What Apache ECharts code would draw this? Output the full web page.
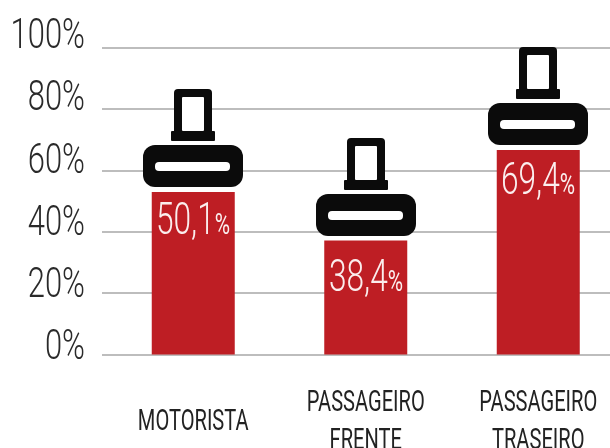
<!DOCTYPE html>
<html><head><meta charset="utf-8">
<style>html,body{margin:0;padding:0;background:#fff}#c{width:610px;height:448px}</style>
<script src="https://cdn.jsdelivr.net/npm/echarts@6/dist/echarts.min.js"></script>
</head><body><div id="c"></div>
<script>
const categories = ['MOTORISTA', 'PASSAGEIRO\nFRENTE', 'PASSAGEIRO\nTRASEIRO'];
const barHeights = [52.9, 37.1, 66.6];
const valueLabels = ['50,1', '38,4', '69,4'];
const tickValues = [0, 20, 40, 60, 80, 100];
const tickLabels = ['0%', '20%', '40%', '60%', '80%', '100%'];

const FONT = 'Roboto,"Liberation Sans",sans-serif';
const LABEL_DROP = [31, 39, 33];
const chart = echarts.init(document.getElementById('c'), null, {renderer: 'canvas'});

function beltIcon(params, api) {
  const p = api.coord([api.value(0), api.value(1)]);
  const x = Math.round(p[0]), y = Math.round(p[1]);
  const rect = (dx, dy, w, h, r, fill) => ({
    type: 'rect',
    shape: {x: x + dx, y: y + dy, width: w, height: h, r},
    style: {fill}
  });
  return {type: 'group', children: [
    rect(-19, -103, 38, 46, 4, '#0b0b0b'),
    rect(-11, -95, 22, 34, 1, '#ffffff'),
    rect(-22, -61, 44, 10, 1, '#0b0b0b'),
    rect(-50, -47, 100, 42, 12, '#0b0b0b'),
    rect(-38, -30, 75, 9, 4, '#ffffff'),
    {
      type: 'text', x, y: y + LABEL_DROP[params.dataIndex], scaleX: 0.72,
      style: {
        text: '{n|' + valueLabels[params.dataIndex] + '}{p|%}',
        align: 'center', verticalAlign: 'middle',
        rich: {
          n: {fontFamily: FONT, fontWeight: 300, fontSize: 44, fill: '#fbeeee'},
          p: {fontFamily: FONT, fontWeight: 400, fontSize: 29, fill: '#fbeeee', padding: [8, 0, 0, 0]}
        }
      }
    }
  ]};
}

function tickText(params, api) {
  const v = api.value(0);
  const p = api.coord([0, v]);
  return {
    type: 'text', x: 85, y: p[1] - 6 - v * 0.04, scaleX: 0.72,
    style: {
      text: tickLabels[params.dataIndex], align: 'right', verticalAlign: 'middle',
      fontFamily: FONT, fontWeight: 300, fontSize: 43, fill: '#2a2a2a'
    }
  };
}

function categoryText(params, api) {
  const p = api.coord([api.value(0), 0]);
  return {
    type: 'text', x: p[0], y: p[1] + 68, scaleX: 0.67,
    style: {
      text: categories[params.dataIndex], align: 'center', verticalAlign: 'middle',
      fontFamily: FONT, fontSize: 30, lineHeight: 38, fill: '#222222'
    }
  };
}

chart.setOption({
  animation: false,
  backgroundColor: '#ffffff',
  grid: {left: 107, width: 517.5, top: 47.5, height: 307, outerBoundsMode: 'none', containLabel: false},
  xAxis: {
    type: 'category', data: categories,
    axisLine: {show: false}, axisTick: {show: false}, axisLabel: {show: false}
  },
  yAxis: {
    type: 'value', min: 0, max: 100, interval: 20,
    axisLine: {show: false},
    axisTick: {show: true, length: 5, lineStyle: {color: '#bdbdbd', width: 2}},
    splitLine: {show: true, lineStyle: {color: '#bdbdbd', width: 2}},
    axisLabel: {show: false}
  },
  series: [
    {type: 'bar', data: barHeights, barWidth: 83, itemStyle: {color: '#be1e24'}, z: 2},
    {type: 'custom', data: barHeights.map((v, i) => [i, v]), renderItem: beltIcon, z: 3, clip: false, encode: {x: 0, y: 1}},
    {type: 'custom', data: tickValues.map(v => [v]), renderItem: tickText, z: 3, clip: false, encode: {y: 0}},
    {type: 'custom', data: categories.map((c, i) => [i]), renderItem: categoryText, z: 3, clip: false, encode: {x: 0}}
  ]
});
</script></body></html>
